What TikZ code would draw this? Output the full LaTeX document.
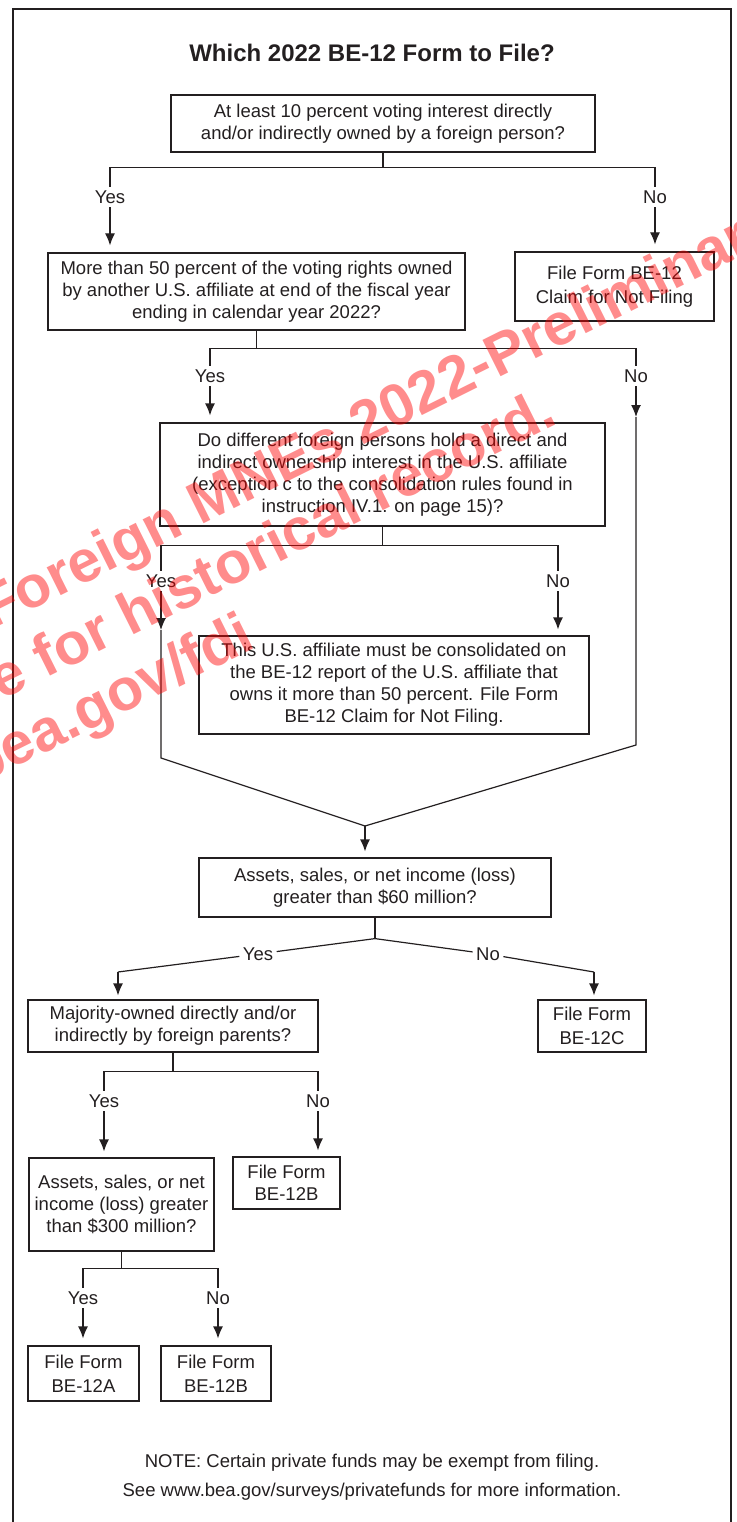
\documentclass[tikz,border=0pt]{standalone}
\usepackage{fontspec}
\setmainfont{Liberation Sans}
\usepackage{tikz}
\usetikzlibrary{arrows.meta}
\definecolor{ink}{RGB}{35,31,32}
\tikzset{>={Latex[length=12pt,width=10pt]}}

\begin{document}
\begin{tikzpicture}[x=1pt, y=-1pt, line width=1.2pt, color=ink]
\tikzset{box/.style={draw, rectangle, inner sep=0pt, align=center, font=\fontsize{18.5}{22}\selectfont}}
\tikzset{lbl/.style={inner sep=3pt, font=\fontsize{18.5}{22}\selectfont}}
\tikzset{wm/.style={rotate=26.5, anchor=base west, inner sep=0pt, text=red, text opacity=0.45, font=\bfseries\fontsize{59}{59}\selectfont}}
    \useasboundingbox (0,0) rectangle (736,1522);
    \clip (0,0) rectangle (736,1522);
    \draw[line width=2.5pt] (13,9) rectangle (731,1530);

    \node[font=\bfseries\fontsize{24}{28}\selectfont] (title) at (372,53) {Which 2022 BE-12 Form to File?};

    \node[box, minimum width=424pt, minimum height=57pt] (q1) at (383,123.5) {At least 10 percent voting interest directly\\and/or indirectly owned by a foreign person?};
    \node[box, minimum width=417pt, minimum height=77pt] (q2) at (256.5,291.5) {More than 50 percent of the voting rights owned\\by another U.S. affiliate at end of the fiscal year\\ending in calendar year 2022?};
    \node[box, minimum width=199pt, minimum height=69pt] (nf1) at (614.5,286.5) {File Form BE-12\\[2pt]Claim for Not Filing};
    \node[box, minimum width=445pt, minimum height=103pt] (q3) at (382.5,474.5) {Do different foreign persons hold a direct and\\indirect ownership interest in the U.S. affiliate\\(exception c to the consolidation rules found in\\instruction IV.1. on page 15)?};
    \node[box, minimum width=390pt, minimum height=98pt] (nf2) at (394,685) {This U.S. affiliate must be consolidated on\\the BE-12 report of the U.S. affiliate that\\owns it more than 50 percent. File Form\\BE-12 Claim for Not Filing.};
    \node[box, minimum width=352pt, minimum height=59pt] (q4) at (375,887.5) {Assets, sales, or net income (loss)\\greater than \$60 million?};
    \node[box, minimum width=290pt, minimum height=52pt] (q5) at (173,1026) {Majority-owned directly and/or\\indirectly by foreign parents?};
    \node[box, minimum width=108pt, minimum height=52pt] (fC) at (592,1026) {File Form\\[2pt]BE-12C};
    \node[box, minimum width=185pt, minimum height=93pt] (q6) at (121.5,1204.5) {Assets, sales, or net\\income (loss) greater\\than \$300 million?};
    \node[box, minimum width=107pt, minimum height=52pt] (fB1) at (286.5,1183) {File Form\\BE-12B};
    \node[box, minimum width=111pt, minimum height=55pt] (fA) at (83.5,1373.5) {File Form\\[2pt]BE-12A};
    \node[box, minimum width=110pt, minimum height=55pt] (fB2) at (216,1373.5) {File Form\\[2pt]BE-12B};
% % % % % % % % % % % % % % % % % % %
    \node[lbl] (yes1) at (110,197) {Yes};
    \node[lbl] (no1) at (655,197) {No};
    \node[lbl] (yes2) at (210,376) {Yes};
    \node[lbl] (no2) at (636,376) {No};
    \node[lbl] (yes3) at (161,581) {Yes};
    \node[lbl] (no3) at (558,581) {No};
    \node[lbl] (yes4) at (258,954) {Yes};
    \node[lbl] (no4) at (488,954) {No};
    \node[lbl] (yes5) at (104,1101) {Yes};
    \node[lbl] (no5) at (318,1101) {No};
    \node[lbl] (yes6) at (83,1298) {Yes};
    \node[lbl] (no6) at (218,1298) {No};

    \coordinate (r1) at (636,417);
    \coordinate (r2) at (636,745);
    \coordinate (l1) at (161,630);
    \coordinate (l2) at (161,758);
    \coordinate (m) at (365,826);
    \coordinate (c4l) at (118,972);
    \coordinate (c4r) at (594,972);
% % % % % % % % % % % % % % % % % % %
    \draw (q1.south) -- ++(0,15) coordinate (j1) -| (yes1);
    \draw (j1) -| (no1);
    \draw[->, shorten >=7pt] (yes1) -- (yes1 |- q2.north);
    \draw[->, shorten >=7pt] (no1) -- (no1 |- nf1.north);

    \draw (q2.south) -- ++(0,18) coordinate (j2) -| (yes2);
    \draw (j2) -| (no2);
    \draw[->, shorten >=7pt] (yes2) -- (yes2 |- q3.north);
    \draw[->] (no2) -- (r1);
    \draw (r1) -- (r2) -- (m);

    \draw (q3.south) -- ++(0,19) coordinate (j3) -| (yes3);
    \draw (j3) -| (no3);
    \draw[->] (yes3) -- (l1);
    \draw (l1) -- (l2) -- (m);
    \draw[->, shorten >=6pt] (no3) -- (no3 |- nf2.north);
    \draw[->, shorten >=6pt] (m) -- (m |- q4.north);

    \draw (q4.south) -- ++(0,21) coordinate (j4);
    \draw (j4) -- (yes4) -- (c4l);
    \draw (j4) -- (no4) -- (c4r);
    \draw[->, shorten >=4pt] (c4l) -- (c4l |- q5.north);
    \draw[->, shorten >=4pt] (c4r) -- (c4r |- fC.north);

    \draw (q5.south) -- ++(0,19) coordinate (j5) -| (yes5);
    \draw (j5) -| (no5);
    \draw[->, shorten >=6pt] (yes5) -- (yes5 |- q6.north);
    \draw[->, shorten >=6pt] (no5) -- (no5 |- fB1.north);

    \draw (q6.south) -- ++(0,17) coordinate (j6) -| (yes6);
    \draw (j6) -| (no6);
    \draw[->, shorten >=7pt] (yes6) -- (yes6 |- fA.north);
    \draw[->, shorten >=7pt] (no6) -- (no6 |- fB2.north);
% % % % % % % % % % % % % % % % % % %
    \node[font=\fontsize{18.5}{22}\selectfont] (note1) at (372,1463) {NOTE: Certain private funds may be exempt from filing.};
    \node[font=\fontsize{18.5}{22}\selectfont] (note2) at (372,1492) {See www.bea.gov/surveys/privatefunds for more information.};

    \node[wm] (wm1) at (-8,630) {Foreign MNEs 2022-Preliminary};
    \node[wm] (wm2) at (1,701) {e for historical record.};
    \node[wm] (wm3) at (-22,786) {bea.gov/fdi};
\end{tikzpicture}
\end{document}
